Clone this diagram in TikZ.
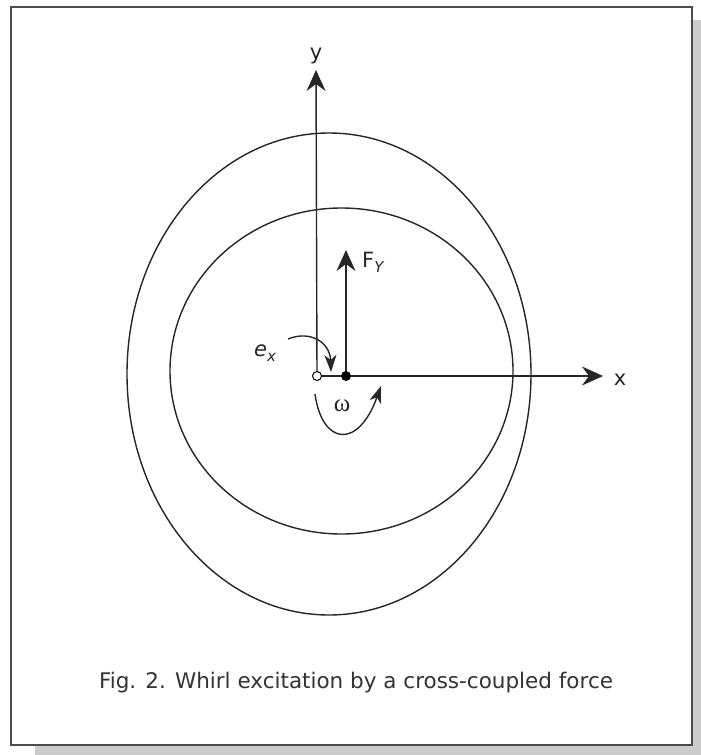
\documentclass[tikz,border=0pt]{standalone}
\usepackage{fontspec}
\setmainfont{DejaVu Sans}
\newfontfamily\omegafont{Liberation Serif}
\usetikzlibrary{arrows.meta}
\tikzset{
  ln/.style={line width=1.4pt, black!85},
  axis/.style={ln, -{Stealth[length=21pt,width=19pt,inset=7pt]}},
  curv/.style={ln, -{Stealth[length=17pt,width=12pt,inset=5pt]}},
  lbl/.style={font=\fontsize{21}{21}\selectfont, inner sep=0pt, text=black!85},
}
\newcommand{\subsx}[1]{\raisebox{-0.25em}{\fontsize{15}{15}\selectfont\itshape #1}}
\begin{document}
\begin{tikzpicture}[x=1pt,y=-1pt]
\useasboundingbox (0,0) rectangle (701,755);
% shadow
\fill[black!20] (35,745) rectangle (701,755);
\fill[black!20] (692,20) rectangle (701,755);
% frame
\draw[line width=2pt, black!70, fill=white] (11,7) rectangle (692,745);
% ellipses
\draw[ln] (329,374) ellipse [x radius=202, y radius=241];
\draw[ln] (341.5,371) ellipse [x radius=171.5, y radius=163];
% points
\coordinate (O) at (317,376);
\coordinate (P) at (346,376);
\coordinate (Ytip) at (316,70);
\coordinate (Xtip) at (603,376);
\coordinate (Ftip) at (346,250);
\draw[axis] (O) -- (Ytip);
\draw[axis] (O) -- (Xtip);
\draw[axis] (P) -- (Ftip);
\node[lbl] (ylab) at (316,56) {y};
\node[lbl] (xlab) at (620,380) {x};
\node[lbl, anchor=west] (flab) at (362,262) {F\subsx{Y}};
\node[lbl] (elab) at (265,353) {\itshape e\subsx{x}};
\node[lbl] (wlab) at (342,406) {\fontsize{25}{25}\selectfont\omegafont ω};
% e_x arrow
\coordinate (e1) at (288,339);
\coordinate (e2) at (331,372);
\draw[curv] (e1) .. controls (310,330) and (330,342) .. (e2);
% omega arrow
\coordinate (w1) at (315,394);
\coordinate (w2) at (381,386);
\draw[curv] (w1) .. controls (322,445) and (358,450) .. (w2);
\node[circle, draw, line width=1pt, fill=white, inner sep=0pt, minimum size=9pt] (oc) at (O) {};
\node[circle, fill=black, inner sep=0pt, minimum size=10pt] (pc) at (P) {};
% caption
\node[font=\fontsize{21.5}{21.5}\selectfont, text=black!80] (cap) at (356,683) {Fig. 2. Whirl excitation by a cross-coupled force};
\end{tikzpicture}
\end{document}
